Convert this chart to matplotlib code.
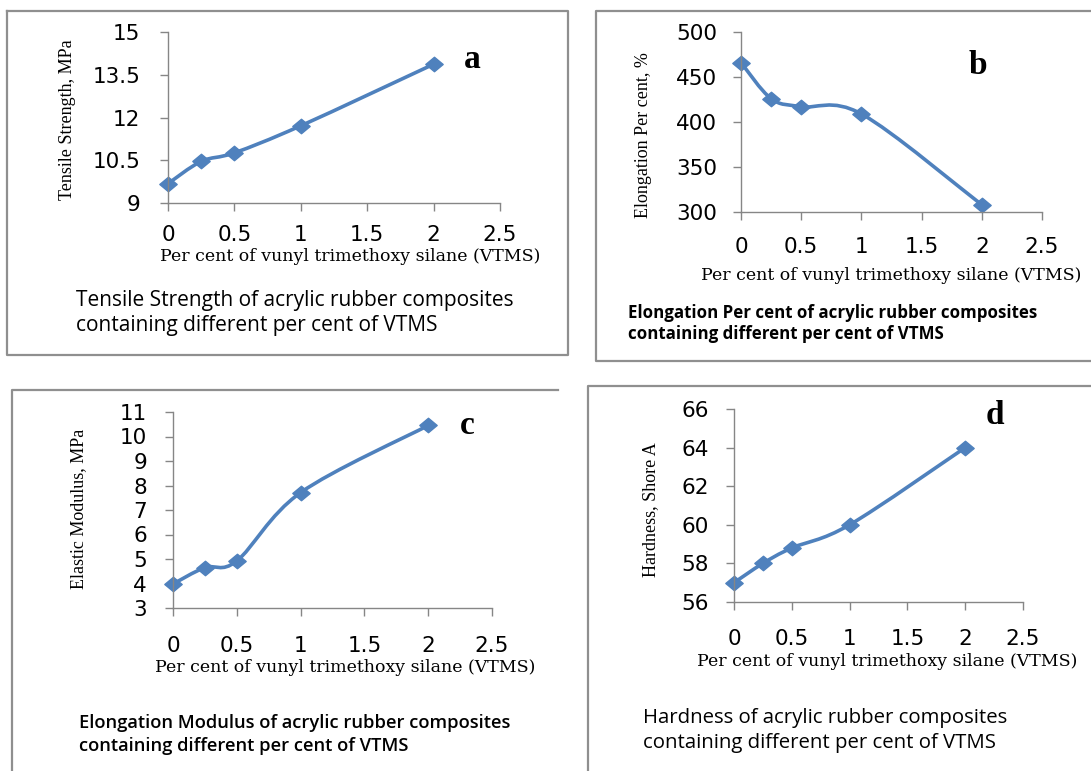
import numpy as np
import matplotlib
matplotlib.use("Agg")
import matplotlib.pyplot as plt
import matplotlib.lines as lines
import matplotlib.patches as mpatches
from matplotlib.path import Path

W, H = 1091, 771

# data
vtms = [0, 0.25, 0.5, 1, 2]
tensile = [9.68, 10.46, 10.76, 11.71, 13.87]
elongation = [466, 426, 417, 409, 308]
modulus = [3.98, 4.65, 4.92, 7.71, 10.45]
hardness = [57.0, 58.0, 58.8, 60.0, 64.0]

x_ticks = [0, 0.5, 1, 1.5, 2, 2.5]
x_tick_labels = ['0', '0.5', '1', '1.5', '2', '2.5']
tensile_ticks = [9, 10.5, 12, 13.5, 15]
tensile_labels = ['9', '10.5', '12', '13.5', '15']
elong_ticks = [300, 350, 400, 450, 500]
modulus_ticks = list(range(3, 12))
hardness_ticks = [56, 58, 60, 62, 64, 66]

xlabel = "Per cent of vunyl trimethoxy silane (VTMS)"
captions = [
    ("Tensile Strength of acrylic rubber composites",
     "containing different per cent of VTMS"),
    ("Elongation Per cent of acrylic rubber composites",
     "containing different per cent of VTMS"),
    ("Elongation Modulus of acrylic rubber composites",
     "containing different per cent of VTMS"),
    ("Hardness of acrylic rubber composites",
     "containing different per cent of VTMS"),
]

BLUE = '#4F81BD'
GREY = '#868686'
BOX = '#8F8F8F'


def fx(x):
    return x / W


def fy(y):
    return 1 - y / H


def smooth_path(xs, ys):
    # Bezier segments through the points, like a spreadsheet "smoothed line"
    pts = np.column_stack([xs, ys]).astype(float)
    ext = np.vstack([pts[0], pts, pts[-1]])
    verts = [pts[0]]
    codes = [Path.MOVETO]
    for i in range(len(pts) - 1):
        p0, p1, p2, p3 = ext[i], ext[i + 1], ext[i + 2], ext[i + 3]
        verts += [p1 + (p2 - p0) / 6, p2 - (p3 - p1) / 6, p2]
        codes += [Path.CURVE4] * 3
    return Path(verts, codes)


diamond = Path([(0, 1), (1.2, 0), (0, -1), (-1.2, 0), (0, 1)],
               [Path.MOVETO, Path.LINETO, Path.LINETO, Path.LINETO, Path.CLOSEPOLY])

fig = plt.figure(figsize=(W / 100, H / 100), dpi=100)
fig.patch.set_facecolor('white')

# panel frames (pixel coords)
frames = [
    [(6.5, 11), (568, 11), (568, 355), (6.5, 355), (6.5, 11)],
    [(1095, 11), (596, 11), (596, 361), (1095, 361)],
    [(558, 390), (12, 390), (12, 775)],
    [(1095, 386), (588, 386), (588, 775)],
]
for fr in frames:
    xs = [fx(p[0]) for p in fr]
    ys = [fy(p[1]) for p in fr]
    fig.add_artist(lines.Line2D(xs, ys, color=BOX, lw=1.6, transform=fig.transFigure))

panels = [
    dict(box=(168, 500, 32, 203), y=tensile, ylim=(9, 15), yticks=tensile_ticks,
         ylabels=tensile_labels, ylab="Tensile Strength, MPa", letter='a',
         letter_xy=(472, 60), ylab_xy=(67, 120), xlab_xy=(350, 257),
         ypad=14, xpad=9.5, cap=(76, 301, 325), capstyle=('normal', 15)),
    dict(box=(741, 1042, 32, 212), y=elongation, ylim=(300, 500), yticks=elong_ticks,
         ylabels=[str(v) for v in elong_ticks], ylab="Elongation Per cent, %", letter='b',
         letter_xy=(978, 66), ylab_xy=(643, 135), xlab_xy=(891, 275),
         ypad=11.3, xpad=12.2, cap=(628, 313, 334), capstyle=('bold', 12.2)),
    dict(box=(173, 492, 412, 608), y=modulus, ylim=(3, 11), yticks=modulus_ticks,
         ylabels=[str(v) for v in modulus_ticks], ylab="Elastic Modulus, MPa", letter='c',
         letter_xy=(467, 426), ylab_xy=(79, 509), xlab_xy=(345, 668),
         ypad=12.7, xpad=14.5, cap=(79, 723, 746), capstyle=('semibold', 13.2)),
    dict(box=(734, 1023, 409, 602), y=hardness, ylim=(56, 66), yticks=hardness_ticks,
         ylabels=[str(v) for v in hardness_ticks], ylab="Hardness, Shore A", letter='d',
         letter_xy=(995, 416), ylab_xy=(651, 510), xlab_xy=(887, 662),
         ypad=12, xpad=13.5, cap=(643, 718, 743), capstyle=('normal', 14.7)),
]

for p, cap in zip(panels, captions):
    l, r, t, b = p['box']
    ax = fig.add_axes([fx(l), fy(b), (r - l) / W, (b - t) / H])
    ax.set_facecolor('none')
    ax.set_xlim(0, 2.5)
    ax.set_ylim(*p['ylim'])

    ax.add_patch(mpatches.PathPatch(smooth_path(vtms, p['y']), facecolor='none',
                                    edgecolor=BLUE, lw=2.6, capstyle='round',
                                    joinstyle='round', clip_on=False))
    ax.plot(vtms, p['y'], ls='none', marker=diamond, ms=12.5, color=BLUE,
            mec=BLUE, clip_on=False)

    for s in ['top', 'right']:
        ax.spines[s].set_visible(False)
    for s in ['left', 'bottom']:
        ax.spines[s].set_color(GREY)
        ax.spines[s].set_linewidth(1.0)

    ax.set_xticks(x_ticks)
    ax.set_xticklabels(x_tick_labels)
    ax.set_yticks(p['yticks'])
    ax.set_yticklabels(p['ylabels'])
    ax.tick_params(axis='both', direction='out', length=6, width=1.0, color=GREY,
                   labelsize=15.5, labelcolor='black')
    ax.tick_params(axis='y', pad=p['ypad'])
    ax.tick_params(axis='x', pad=p['xpad'])
    for lab in ax.get_xticklabels() + ax.get_yticklabels():
        lab.set_family('DejaVu Sans')

    ax.set_xlabel(xlabel, fontsize=12.5, family='DejaVu Serif', va='center')
    ax.xaxis.set_label_coords(fx(p['xlab_xy'][0]), fy(p['xlab_xy'][1]),
                              transform=fig.transFigure)
    ax.set_ylabel(p['ylab'], fontsize=13, family='Liberation Serif', va='center')
    ax.yaxis.set_label_coords(fx(p['ylab_xy'][0]), fy(p['ylab_xy'][1]),
                              transform=fig.transFigure)

    fig.text(fx(p['letter_xy'][0]), fy(p['letter_xy'][1]), p['letter'],
             fontsize=24, fontweight='bold', family='Liberation Serif',
             ha='center', va='center')

    cx, y1, y2 = p['cap']
    weight, size = p['capstyle']
    for line, yy in zip(cap, (y1, y2)):
        fig.text(fx(cx), fy(yy), line, fontsize=size, fontweight=weight,
                 family='Open Sans', ha='left', va='center')

fig.savefig('out.png', dpi=100, facecolor='white')
